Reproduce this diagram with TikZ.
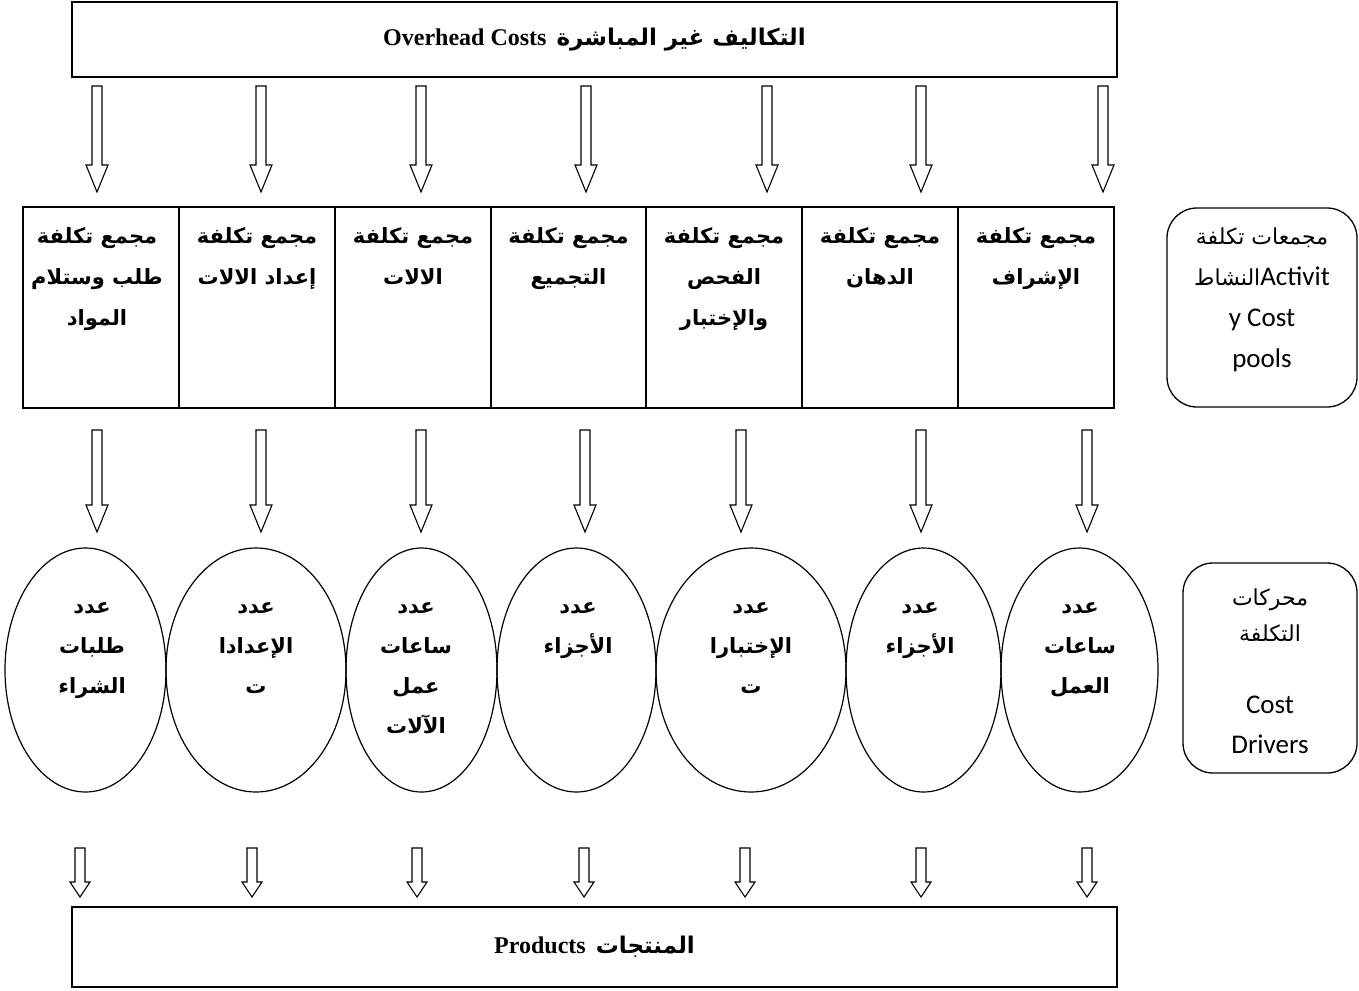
\documentclass[tikz,border=0pt]{standalone}
\usepackage{fontspec}
\setmainfont{Liberation Serif}
\newfontfamily\arb[Script=Arabic]{DejaVu Sans}
\newfontfamily\carl{Carlito}
\usetikzlibrary{shapes.geometric}
\TeXXeTstate=1
\newcommand\RL[1]{\beginR#1\endR}
\newcommand\barrow[6]{\draw[blockarrow] ({#1-#5},#2) -- ({#1+#5},#2) -- ({#1+#5},#3) -- ({#1+#6},#3) -- (#1,#4) -- ({#1-#6},#3) -- ({#1-#5},#3) -- cycle;}
\begin{document}
\begin{tikzpicture}[x=1pt,y=-1pt,
  box/.style={draw, line width=1.4pt, inner sep=0pt, outer sep=0pt},
  cell/.style={draw, line width=1.3pt, minimum width=156pt, minimum height=201pt, inner sep=0pt, outer sep=0pt},
  oval/.style={draw, ellipse, line width=1.2pt, minimum height=244pt, inner sep=0pt, outer sep=0pt},
  side/.style={draw, line width=1.3pt, rounded corners=30pt, inner sep=0pt, outer sep=0pt},
  celltext/.style={anchor=north, align=center, inner sep=0pt, font=\arb\bfseries\fontsize{21}{41}\selectfont},
  ovaltext/.style={anchor=north, align=center, inner sep=0pt, font=\arb\bfseries\fontsize{21}{40}\selectfont},
  blockarrow/.style={draw, line width=1.1pt, fill=white, line join=miter}
]
\useasboundingbox (0,0) rectangle (1359,990);

% top box
\node[box, minimum width=1045pt, minimum height=75pt] (top) at (594.5,39.5)
  {\fontsize{24}{28}\selectfont\bfseries Overhead Costs\hspace{10pt}{\arb\fontsize{23}{28}\selectfont\RL{التكاليف غير المباشرة}}};

% top arrows
\foreach \x in {97,261,421,586,767,921,1103}{\barrow{\x}{86}{165}{192}{5}{11}}

% activity cells
\node[cell] (c1) at (101,307.5) {};
\node[cell] (c2) at (257,307.5) {};
\node[cell] (c3) at (413,307.5) {};
\node[cell] (c4) at (568.5,307.5) {};
\node[cell] (c5) at (724,307.5) {};
\node[cell] (c6) at (880,307.5) {};
\node[cell] (c7) at (1036,307.5) {};
\node[celltext] (t1) at ([xshift=-4pt,yshift=-20pt]c1.north) {\RL{مجمع تكلفة}\\\RL{طلب وستلام}\\\RL{المواد}};
\node[celltext] (t2) at ([yshift=-20pt]c2.north) {\RL{مجمع تكلفة}\\\RL{إعداد الالات}};
\node[celltext] (t3) at ([yshift=-20pt]c3.north) {\RL{مجمع تكلفة}\\\RL{الالات}};
\node[celltext] (t4) at ([yshift=-20pt]c4.north) {\RL{مجمع تكلفة}\\\RL{التجميع}};
\node[celltext] (t5) at ([yshift=-20pt]c5.north) {\RL{مجمع تكلفة}\\\RL{الفحص}\\\RL{والإختبار}};
\node[celltext] (t6) at ([yshift=-20pt]c6.north) {\RL{مجمع تكلفة}\\\RL{الدهان}};
\node[celltext] (t7) at ([yshift=-20pt]c7.north) {\RL{مجمع تكلفة}\\\RL{الإشراف}};

% side box 1
\node[side, minimum width=190pt, minimum height=199pt] (s1) at (1262,307.5) {};
\node[align=center, inner sep=0pt, anchor=north, font=\carl\fontsize{27}{41}\selectfont] (s1t) at ([yshift=-20pt]s1.north)
  {{\arb\fontsize{22}{41}\selectfont\RL{مجمعات تكلفة}}\\{\arb\fontsize{22}{41}\selectfont\RL{النشاط}}Activit\\y Cost\\pools};

% middle arrows
\foreach \x in {97,261,421,585,741,921,1087}{\barrow{\x}{430}{505}{532}{5}{11}}

% ellipses
\node[oval, minimum width=161pt] (e1) at (85.5,670) {};
\node[oval, minimum width=180pt] (e2) at (256,670) {};
\node[oval, minimum width=151pt] (e3) at (421.5,670) {};
\node[oval, minimum width=159pt] (e4) at (576.5,670) {};
\node[oval, minimum width=190pt] (e5) at (751,670) {};
\node[oval, minimum width=155pt] (e6) at (923.5,670) {};
\node[oval, minimum width=157pt] (e7) at (1079.5,670) {};
\node[ovaltext] (o1) at (92,602) {\RL{عدد}\\\RL{طلبات}\\\RL{الشراء}};
\node[ovaltext] (o2) at (256,602) {\RL{عدد}\\\RL{الإعدادا}\\\RL{ت}};
\node[ovaltext] (o3) at (416,602) {\RL{عدد}\\\RL{ساعات}\\\RL{عمل}\\\RL{الآلات}};
\node[ovaltext] (o4) at (578,602) {\RL{عدد}\\\RL{الأجزاء}};
\node[ovaltext] (o5) at (751,602) {\RL{عدد}\\\RL{الإختبارا}\\\RL{ت}};
\node[ovaltext] (o6) at (920,602) {\RL{عدد}\\\RL{الأجزاء}};
\node[ovaltext] (o7) at (1080,602) {\RL{عدد}\\\RL{ساعات}\\\RL{العمل}};

% side box 2
\node[side, minimum width=174pt, minimum height=210pt] (s2) at (1270,668) {};
\node[align=center, inner sep=0pt, anchor=north, font=\arb\fontsize{22}{36}\selectfont] (s2a) at ([yshift=-26pt]s2.north)
  {\RL{محركات}\\\RL{التكلفة}};
\node[align=center, inner sep=0pt, anchor=north, font=\carl\fontsize{27}{40}\selectfont] (s2b) at ([yshift=-133pt]s2.north)
  {Cost\\Drivers};

% bottom arrows
\foreach \x in {80,252,417,584,745,921,1087}{\barrow{\x}{848}{882}{897}{5}{10}}

% bottom box
\node[box, minimum width=1045pt, minimum height=80pt] (bot) at (594.5,947)
  {\fontsize{24}{28}\selectfont\bfseries Products\hspace{10pt}{\arb\fontsize{23}{28}\selectfont\RL{المنتجات}}};
\end{tikzpicture}
\end{document}
